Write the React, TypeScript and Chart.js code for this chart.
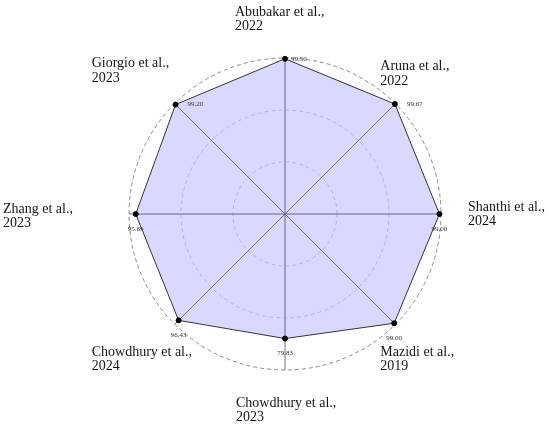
import React, { useEffect, useRef } from "react";
import { Chart, registerables } from "chart.js";

Chart.register(...registerables);

// ---- data ----
const authorLines: string[][] = [
  ["Abubakar et al.,", "2022"],
  ["Aruna et al.,", "2022"],
  ["Shanthi et al.,", "2024"],
  ["Mazidi et al.,", "2019"],
  ["Chowdhury et al.,", "2023"],
  ["Chowdhury et al.,", "2024"],
  ["Zhang et al.,", "2023"],
  ["Giorgio et al.,", "2023"],
];
const accuracy: number[] = [99.5, 99.67, 99.0, 99.0, 79.83, 96.43, 95.69, 99.2];
const valueLabels: string[] = ["99.50", "99.67", "99.00", "99.00", "79.83", "96.43", "95.69", "99.20"];
const scaleMin = 0;
const scaleMax = 100;
const ringCount = 4;

// ---- label layout (style, not data) ----
const NAME_OFFSETS: [number, number][] = [
  [-50, -46],
  [-15, -37],
  [27, -7],
  [-15, 28],
  [-49, 33],
  [-83, 28],
  [-126, -5],
  [-83, -40],
];
// >0: text to the right with that gap; 0: centered below
const VALUE_SIDE: number[] = [6, 12, 0, 0, 0, 0, 0, 12];

const labelPlugin = {
  id: "customLabels",
  afterDraw(chart: any) {
    const r = chart.scales.r;
    const ctx = chart.ctx as CanvasRenderingContext2D;
    ctx.save();
    ctx.font = "14px 'Liberation Serif', serif";
    ctx.fillStyle = "#151515";
    ctx.textAlign = "left";
    ctx.textBaseline = "middle";
    authorLines.forEach((lines, i) => {
      const p = r.getPointPosition(i, r.drawingArea);
      const [dx, dy] = NAME_OFFSETS[i];
      lines.forEach((t, k) => ctx.fillText(t, p.x + dx, p.y + dy + k * 14.5));
    });
    ctx.font = "7px 'Liberation Serif', serif";
    ctx.fillStyle = "#333";
    accuracy.forEach((v, i) => {
      const p = r.getPointPosition(i, r.getDistanceFromCenterForValue(v));
      const side = VALUE_SIDE[i];
      if (side > 0) {
        ctx.textAlign = "left";
        ctx.fillText(valueLabels[i], p.x + side, p.y);
      } else {
        ctx.textAlign = "center";
        ctx.fillText(valueLabels[i], p.x, p.y + 15);
      }
    });
    ctx.restore();
  },
};

export default function App() {
  const ref = useRef<HTMLCanvasElement | null>(null);
  useEffect(() => {
    if (!ref.current) return;
    const chart = new Chart(ref.current, {
      type: "radar",
      data: {
        labels: authorLines.map((l) => l.join(" ")),
        datasets: [
          {
            data: accuracy,
            backgroundColor: "rgba(0,0,255,0.15)",
            borderColor: "#333",
            borderWidth: 1,
            pointBackgroundColor: "#000",
            pointBorderColor: "#000",
            pointRadius: 2.5,
            fill: true,
          },
        ],
      },
      options: {
        responsive: false,
        animation: false,
        devicePixelRatio: 1,
        layout: { autoPadding: false, padding: { left: 129, right: 109, top: 58, bottom: 56 } },
        plugins: { legend: { display: false }, tooltip: { enabled: false } },
        scales: {
          r: {
            min: scaleMin,
            max: scaleMax,
            ticks: { display: false, count: ringCount },
            pointLabels: { display: false },
            angleLines: { display: true, color: "#777", lineWidth: 1 },
            grid: {
              circular: true,
              lineWidth: 1,
              color: (c: any) => (c.tick && c.tick.value >= scaleMax - 0.01 ? "#8a8a8a" : "#d2d2dc"),
            },
            border: { dash: [4, 3] },
          } as any,
        },
      },
      plugins: [labelPlugin],
    });
    return () => chart.destroy();
  }, []);
  return (
    <div style={{ position: "absolute", left: 0, top: 0, width: 550, height: 426, background: "#fff" }}>
      <canvas ref={ref} width={550} height={426} style={{ display: "block" }} />
    </div>
  );
}
